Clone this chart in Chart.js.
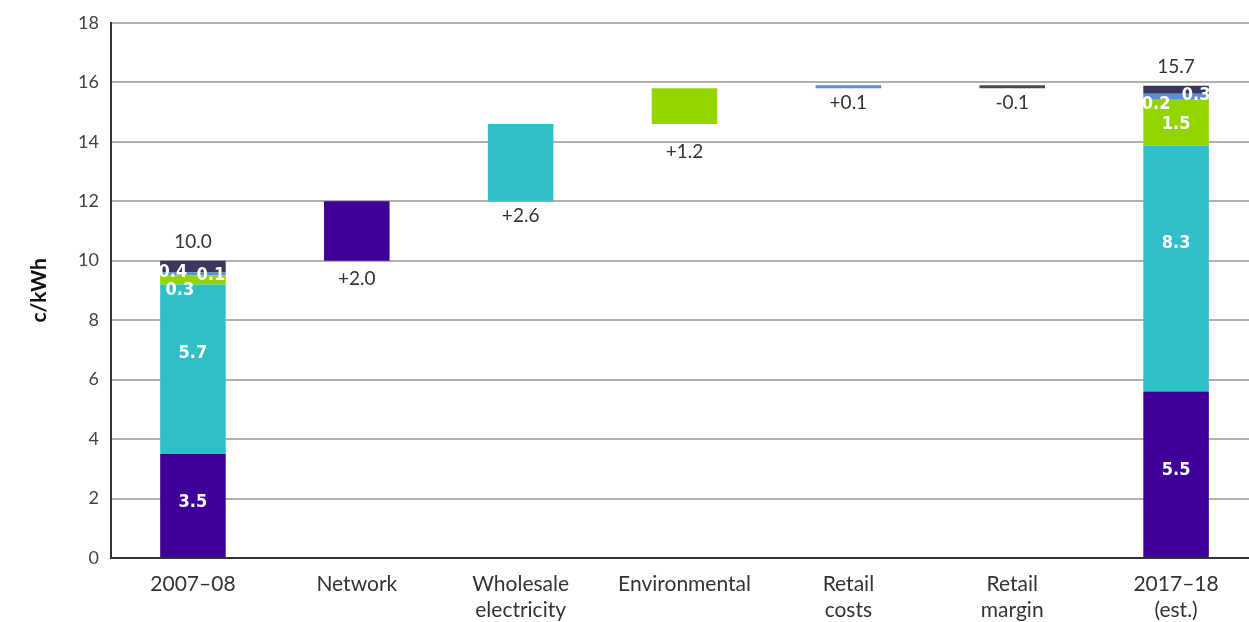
<!DOCTYPE html>
<html>
<head>
<meta charset="utf-8">
<script src="https://cdn.jsdelivr.net/npm/chart.js@4.4.1/dist/chart.umd.min.js"></script>
<style>
  html, body { margin: 0; padding: 0; background: #fff; overflow: hidden; }
  #wrap { width: 1262px; height: 622px; }
</style>
</head>
<body>
<div id="wrap"><canvas id="grafico" width="1262" height="622"></canvas></div>
<script>
// categorias e valores (c/kWh)
var categorias = ['2007–08', 'Network', ['Wholesale', 'electricity'], 'Environmental', ['Retail', 'costs'], ['Retail', 'margin'], ['2017–18', '(est.)']]
var componentes = ['Network', 'Wholesale electricity', 'Environmental', 'Retail costs', 'Retail margin']
var inicio = [3.5, 5.7, 0.3, 0.1, 0.4]          // 2007-08 stack
var variacao = [2.0, 2.6, 1.2, 0.1, -0.1]       // steps
var fim = [5.6, 8.27, 1.54, 0.2, 0.27]          // 2017-18 stack
var rotInicio = ['3.5', '5.7', '0.3', '0.1', '0.4']
var rotFim = ['5.5', '8.3', '1.5', '0.2', '0.3']
var rotVariacao = ['+2.0', '+2.6', '+1.2', '+0.1', '-0.1']
var rotTotais = ['10.0', '15.7']
var yTicks = [0, 2, 4, 6, 8, 10, 12, 14, 16, 18]

var cores = ['#3f0099', '#30bfc6', '#94d500', '#5b8ed8', '#3a385e']
var corMargem = '#4a4a4a'

// monta os datasets flutuantes
var datasets = []
var acumIni = 0, acumFim = 0
var totalIni = inicio.reduce((a, b) => a + b, 0)
var passo = totalIni
componentes.forEach((nome, k) => {
  var d = new Array(categorias.length).fill(null)
  d[0] = [acumIni, acumIni + inicio[k]]
  acumIni += inicio[k]
  d[k + 1] = [passo, passo + variacao[k]]
  passo += variacao[k]
  d[6] = [acumFim, acumFim + fim[k]]
  acumFim += fim[k]
  var bg = categorias.map((c, i) => (k == 4 && i == 5) ? corMargem : cores[k])
  datasets.push({ label: nome, data: d, backgroundColor: bg, barPercentage: 0.4, categoryPercentage: 1 })
})

// posicoes dos rotulos brancos (dx, dy em px a partir do centro do segmento)
var ajIni = [[0, -3], [0, -16], [-13, 10], [18, 1], [-20, 6]]
var ajFim = [[0, -4], [0, -25], [0, 2], [-20, 7], [20, 5]]
// distancia dos rotulos de variacao abaixo da barra
var ajVar = [18, 15, 28, 15, 15]

var rotulos = {
  id: 'rotulos',
  afterDatasetsDraw(chart) {
    var ctx = chart.ctx
    ctx.save()
    ctx.textAlign = 'center'
    ctx.textBaseline = 'middle'
    componentes.forEach((n, k) => {
      var meta = chart.getDatasetMeta(k)
      // stacks
      ctx.fillStyle = '#fff'
      ctx.font = 'bold 18px "DejaVu Sans Condensed", "DejaVu Sans", sans-serif'
      var a = meta.data[0]
      ctx.fillText(rotInicio[k], a.x + ajIni[k][0], (a.y + a.base) / 2 + ajIni[k][1])
      var b = meta.data[6]
      ctx.fillText(rotFim[k], b.x + ajFim[k][0], (b.y + b.base) / 2 + ajFim[k][1])
      // variacoes
      var c = meta.data[k + 1]
      ctx.fillStyle = '#333'
      ctx.font = '19px Lato, "Open Sans", sans-serif'
      ctx.fillText(rotVariacao[k], c.x, Math.max(c.y, c.base) + ajVar[k])
    })
    // totais
    ctx.fillStyle = '#333'
    ctx.font = '19px Lato, "Open Sans", sans-serif'
    var m = chart.getDatasetMeta(4)
    ctx.fillText(rotTotais[0], m.data[0].x, Math.min(m.data[0].y, m.data[0].base) - 19)
    ctx.fillText(rotTotais[1], m.data[6].x, Math.min(m.data[6].y, m.data[6].base) - 19)
    ctx.restore()
  }
}

plots = document.getElementById('grafico')

new Chart(plots, {
  type: 'bar',
  data: { labels: categorias, datasets: datasets },
  plugins: [rotulos],
  options: {
    responsive: false,
    animation: false,
    layout: { padding: { top: 22, right: 4, left: 0, bottom: 0 } },
    plugins: { legend: { display: false }, tooltip: { enabled: false } },
    scales: {
      x: {
        stacked: true,
        grid: { display: false },
        border: { color: '#333', width: 2 },
        ticks: { color: '#333', padding: 5, font: { family: 'Lato', size: 21, lineHeight: 1.25 }, maxRotation: 0 },
        afterFit: (s) => { s.height = 64 }
      },
      y: {
        min: 0, max: 18,
        afterBuildTicks: (s) => { s.ticks = yTicks.map(v => ({ value: v })) },
        grid: { color: '#b0b0b0', lineWidth: 2, drawTicks: false },
        border: { color: '#333', width: 2 },
        ticks: { color: '#444', padding: 12, font: { family: 'Lato', size: 18 } },
        title: { display: true, text: 'c/kWh', color: '#111', font: { family: 'Lato', size: 21, weight: 'bold' }, padding: { top: 27 } },
        afterFit: (s) => { s.width = 111 }
      }
    }
  }
});
</script>
</body>
</html>
